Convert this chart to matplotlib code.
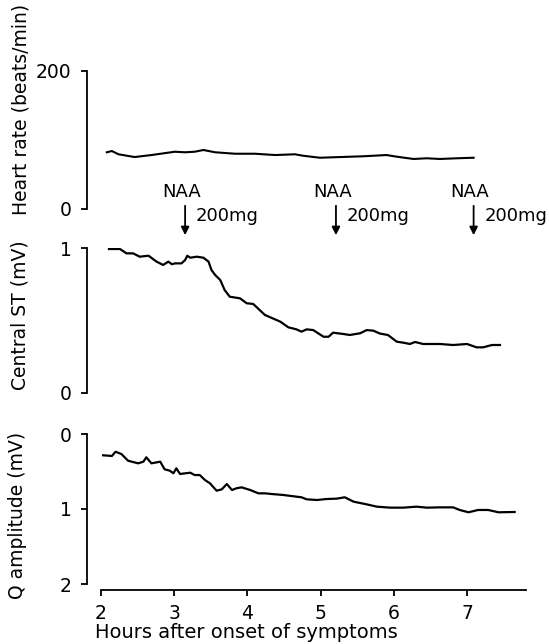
from matplotlib import pyplot as plt
from matplotlib import transforms
import numpy as np

# DATA
HR_T = [2.08, 2.15, 2.24, 2.46, 2.69, 3.01, 3.15, 3.28, 3.40, 3.56, 3.83, 4.10, 4.38, 4.65,
        4.76, 4.99, 5.27, 5.58, 5.90, 6.04, 6.27, 6.45, 6.63, 6.86, 7.09]
HR_V = [82.2, 84.0, 79.3, 75.3, 78.2, 83.0, 82.2, 83.0, 85.5, 82.2, 80.1, 80.1, 78.2, 79.3,
        77.2, 74.3, 75.3, 76.4, 78.2, 75.8, 72.5, 73.5, 72.5, 73.5, 74.3]

ST_T = [2.11, 2.26, 2.35, 2.44, 2.53, 2.65, 2.76, 2.85, 2.92, 2.97, 3.01, 3.10, 3.15, 3.18,
        3.22, 3.31, 3.40, 3.47, 3.51, 3.56, 3.63, 3.69, 3.76, 3.90, 3.99, 4.08, 4.24, 4.45,
        4.56, 4.67, 4.74, 4.81, 4.90, 5.04, 5.11, 5.17, 5.31, 5.40, 5.54, 5.63, 5.72, 5.81,
        5.92, 6.04, 6.13, 6.22, 6.29, 6.40, 6.63, 6.81, 7.00, 7.13, 7.22, 7.34, 7.45]
ST_V = [0.993, 0.993, 0.963, 0.963, 0.940, 0.947, 0.906, 0.883, 0.906, 0.888, 0.894, 0.894,
        0.917, 0.947, 0.933, 0.940, 0.933, 0.906, 0.848, 0.814, 0.779, 0.710, 0.664, 0.653,
        0.619, 0.614, 0.538, 0.492, 0.453, 0.439, 0.423, 0.439, 0.434, 0.388, 0.388, 0.416,
        0.407, 0.400, 0.412, 0.434, 0.430, 0.410, 0.400, 0.354, 0.347, 0.338, 0.352, 0.338,
        0.338, 0.331, 0.338, 0.315, 0.315, 0.331, 0.331]

Q_T = [2.03, 2.15, 2.20, 2.28, 2.37, 2.42, 2.51, 2.58, 2.62, 2.69, 2.81, 2.87, 2.94, 2.99,
       3.03, 3.08, 3.22, 3.28, 3.35, 3.42, 3.49, 3.58, 3.65, 3.72, 3.79, 3.85, 3.92, 4.04,
       4.15, 4.24, 4.33, 4.49, 4.74, 4.81, 4.95, 5.08, 5.22, 5.33, 5.45, 5.63, 5.77, 5.95,
       6.13, 6.31, 6.45, 6.63, 6.81, 6.90, 7.02, 7.15, 7.29, 7.43, 7.65]
Q_V = [0.284, 0.293, 0.236, 0.267, 0.356, 0.369, 0.391, 0.369, 0.311, 0.391, 0.369, 0.471,
       0.489, 0.524, 0.458, 0.533, 0.516, 0.547, 0.547, 0.613, 0.658, 0.756, 0.738, 0.667,
       0.747, 0.724, 0.711, 0.747, 0.791, 0.791, 0.800, 0.813, 0.844, 0.871, 0.880, 0.867,
       0.862, 0.844, 0.902, 0.938, 0.969, 0.982, 0.982, 0.969, 0.982, 0.978, 0.978, 1.013,
       1.044, 1.013, 1.013, 1.044, 1.040]

DOSES = [3.15, 5.21, 7.09]
XTICKS = [2, 3, 4, 5, 6, 7]

# FIGURE
plt.rcParams['font.family'] = 'DejaVu Sans'
fig = plt.figure(figsize=(5.49, 6.44), dpi=100)
L, W = 87/549, 438.6/549
ax1 = fig.add_axes([L, 1-209/644, W, 138/644])
ax2 = fig.add_axes([L, 1-393/644, W, 145/644])
ax3 = fig.add_axes([L, 1-584/644, W, 150/644])

ax1.plot(HR_T, HR_V, color='black', lw=1.5)
ax2.plot(ST_T, ST_V, color='black', lw=1.6)
ax3.plot(Q_T, Q_V, color='black', lw=1.6)

ax1.set_ylim(0, 200); ax1.set_yticks([0, 200])
ax2.set_ylim(0, 1); ax2.set_yticks([0, 1])
ax3.set_ylim(2, 0); ax3.set_yticks([0, 1, 2])

for ax in (ax1, ax2, ax3):
    ax.set_xlim(1.81, 7.8)
    for s in ('top', 'right'):
        ax.spines[s].set_visible(False)
    ax.spines['left'].set_linewidth(1.3)
    ax.tick_params(axis='y', length=4, width=1.3, pad=7, labelsize=13.5, direction='out')
    if ax is not ax3:
        ax.spines['bottom'].set_visible(False)
        ax.set_xticks([])

ax3.spines['bottom'].set_position(('outward', 4.3))
ax3.spines['bottom'].set_bounds(2, 7.8)
ax3.spines['bottom'].set_linewidth(1.3)
ax3.set_xticks(XTICKS)
ax3.tick_params(axis='x', length=4, width=1.3, pad=6, labelsize=13.5)

# LABELS
fig.text(21/549, 1-109/644, 'Heart rate (beats/min)', rotation=90, ha='center', va='center', fontsize=13.5)
fig.text(20/549, 1-315/644, 'Central ST (mV)', rotation=90, ha='center', va='center', fontsize=13.5)
fig.text(18/549, 1-515/644, 'Q amplitude (mV)', rotation=90, ha='center', va='center', fontsize=13.5)
fig.text(95/549, 1-633/644, 'Hours after onset of symptoms', ha='left', va='center', fontsize=14)

# ARROWS
tr = transforms.blended_transform_factory(ax2.transData, fig.transFigure)
for d in DOSES:
    ax2.annotate('', xy=(d, 1-238/644), xytext=(d, 1-203/644), xycoords=tr, textcoords=tr,
                 arrowprops=dict(arrowstyle='-|>', color='black', lw=1.3, mutation_scale=12),
                 annotation_clip=False)
    ax2.text(d-0.05, 1-192/644, 'NAA', transform=tr, ha='center', va='center', fontsize=13)
    ax2.text(d+0.15, 1-216/644, '200mg', transform=tr, ha='left', va='center', fontsize=13)

fig.savefig('out.png', dpi=100)
